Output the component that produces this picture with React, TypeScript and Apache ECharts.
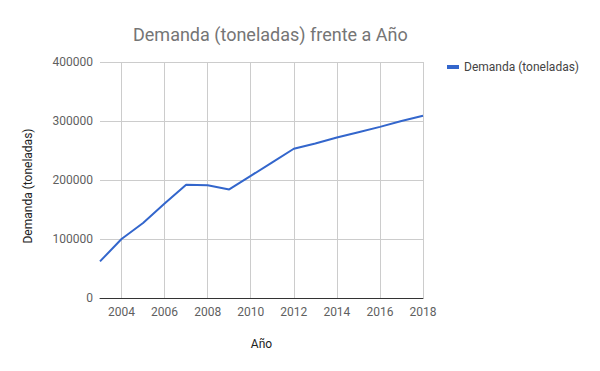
import React, { useEffect, useRef } from "react";
import * as echarts from "echarts";

const years = ["2003","2004","2005","2006","2007","2008","2009","2010","2011","2012","2013","2014","2015","2016","2017","2018"];
const demanda = [62000, 100000, 127000, 160000, 192000, 191000, 184000, 207000, 230000, 253000, 262000, 272000, 281000, 290000, 300000, 309000];
const yMin = 0;
const yMax = 400000;
const yStep = 100000;

export default function App() {
  const ref = useRef<HTMLDivElement>(null);
  useEffect(() => {
    document.body.style.margin = "0";
    const chart = echarts.init(ref.current!, null, { renderer: "svg" });
    const font = "Roboto";
    const showEven = (i: number) => i % 2 === 1;
    chart.setOption({
      animation: false,
      textStyle: { fontFamily: font },
      title: {
        text: "Demanda (toneladas) frente a Año",
        left: 128,
        top: 20,
        textStyle: { fontFamily: font, fontSize: 18, fontWeight: "normal", color: "#757575" },
      },
      legend: {
        left: 442,
        top: 56,
        icon: "rect",
        itemWidth: 12,
        itemHeight: 4,
        itemGap: 8,
        textStyle: { fontFamily: font, fontSize: 12, color: "#444" },
        data: ["Demanda (toneladas)"],
      },
      grid: { left: 100, right: 177, top: 62, bottom: 73, containLabel: false },
      xAxis: {
        type: "category",
        data: years,
        boundaryGap: false,
        name: "Año",
        nameLocation: "middle",
        nameGap: 40,
        nameTextStyle: { fontFamily: font, fontSize: 12, color: "#222" },
        axisLine: { lineStyle: { color: "#333", width: 1 } },
        axisTick: { show: false },
        axisLabel: { interval: (i: number) => showEven(i), color: "#5f5f5f", fontSize: 12, fontFamily: font, margin: 8 },
        splitLine: { show: true, interval: (i: number) => showEven(i), lineStyle: { color: "#ccc" } },
      },
      yAxis: {
        type: "value",
        min: yMin,
        max: yMax,
        interval: yStep,
        name: "Demanda (toneladas)",
        nameLocation: "middle",
        nameGap: 66,
        nameTextStyle: { fontFamily: font, fontSize: 12, color: "#222", padding: [0, 12, 0, 0] },
        axisLine: { show: false },
        axisTick: { show: false },
        axisLabel: { color: "#5f5f5f", fontSize: 12, fontFamily: font, margin: 7, formatter: (v: number) => String(v) },
        splitLine: { lineStyle: { color: "#ccc" } },
      },
      series: [
        {
          name: "Demanda (toneladas)",
          type: "line",
          data: demanda,
          symbol: "none",
          lineStyle: { color: "#3366cc", width: 2 },
          itemStyle: { color: "#3366cc" },
        },
      ],
    });
    return () => chart.dispose();
  }, []);
  return <div ref={ref} style={{ width: 600, height: 371 }} />;
}
